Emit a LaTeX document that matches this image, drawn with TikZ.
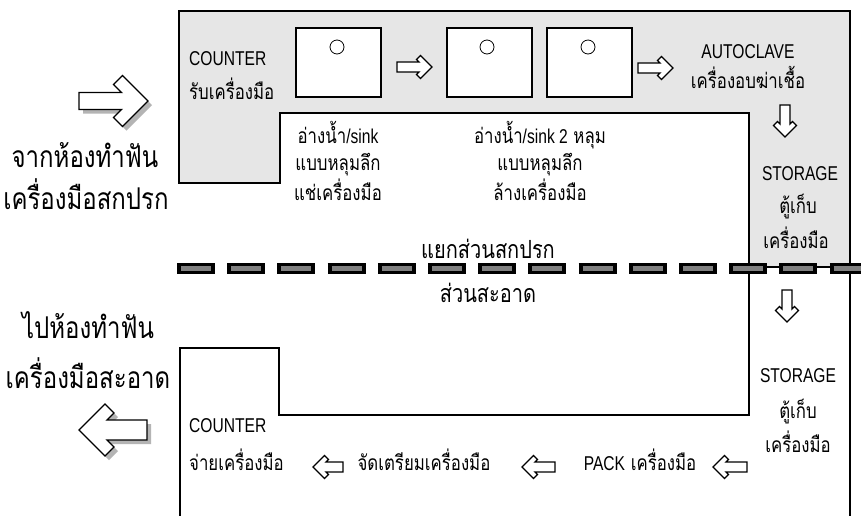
\documentclass[tikz,border=0pt]{standalone}
\usepackage{fontspec}
\newfontfamily\thai[Script=Thai,FakeStretch=0.8]{Loma}
\newfontfamily\lat[FakeStretch=0.78]{Liberation Sans}
\definecolor{roomgray}{HTML}{E6E6E6}
\definecolor{dashgray}{HTML}{808080}
\definecolor{shadowgray}{HTML}{B4B4B4}
\newcommand{\barrowpath}[4]{% L, S, H, d  (tip at origin, pointing +x)
  (0,0) -- (-#3,-#3) -- (-#3-#4,-#3+#4) -- (-2*#4-#2,-#2) -- (-#1,-#2) -- (-#1,#2) -- (-2*#4-#2,#2) -- (-#3-#4,#3-#4) -- (-#3,#3) -- cycle}
\newcommand{\barrow}[7]{% tipx, tipy, rot, L, S, H, d
  \begin{scope}[shift={(#1,#2)},rotate=#3]
    \draw[blockarrow] \barrowpath{#4}{#5}{#6}{#7};
  \end{scope}}
\newcommand{\sbarrow}[7]{% with shadow
  \begin{scope}[shift={(#1+4,#2+4)},rotate=#3]
    \fill[shadowgray] \barrowpath{#4}{#5}{#6}{#7};
  \end{scope}
  \begin{scope}[shift={(#1,#2)},rotate=#3]
    \draw[blockarrow] \barrowpath{#4}{#5}{#6}{#7};
  \end{scope}}
\newcommand{\latin}[1]{{\lat\fontsize{20}{24}\selectfont #1}}
\tikzset{
  wall/.style={line width=2, black},
  sinkbox/.style={draw, line width=2.6, fill=white, minimum width=85, minimum height=69, inner sep=0},
  drain/.style={draw, circle, line width=0.8, minimum size=14, inner sep=0},
  blockarrow/.style={draw, line width=1.3, fill=white, line join=miter},
  sm/.style={font=\thai\fontsize{21}{24}\selectfont, inner sep=0},
  mid/.style={font=\thai\fontsize{25}{28}\selectfont, inner sep=0},
  big/.style={font=\thai\fontsize{30}{34}\selectfont, inner sep=0},
  lab/.style={font=\lat\fontsize{20}{24}\selectfont, inner sep=0},
}
\begin{document}
\begin{tikzpicture}[x=1pt,y=-1pt]
\useasboundingbox (0,0) rectangle (861,515);
\fill[white] (0,0) rectangle (861,515);
% dirty zone
\draw[wall, fill=roomgray] (179,11) -- (850,11) -- (850,267) -- (749,267) -- (749,113) -- (280,113) -- (280,183) -- (179,183) -- cycle;
% clean zone
\draw[wall] (180,518) -- (180,348) -- (279,348) -- (279,415) -- (749,415) -- (749,267);
\draw[wall] (850,267) -- (850,518);
% divider
\draw[line width=11, black, dash pattern=on 38pt off 12.2pt] (177,268.5) -- (880,268.5);
\draw[line width=5, dashgray, dash pattern=on 30pt off 20.2pt] (181,268.5) -- (880,268.5);
% sinks
\node[sinkbox] (s1) at (338.5,62.5) {};
\node[sinkbox] (s2) at (489.5,62.5) {};
\node[sinkbox] (s3) at (589.5,62.5) {};
\node[drain] (d1) at (337,47) {};
\node[drain] (d2) at (487,47) {};
\node[drain] (d3) at (588,47) {};
% arrows
\sbarrow{148}{101}{0}{69}{8.5}{25.5}{9}
\barrow{432}{67}{0}{35}{5}{11.5}{4}
\barrow{673}{68}{0}{35}{5}{11.5}{4}
\barrow{785}{137}{-90}{32}{5}{11.5}{4}
\barrow{787}{322}{-90}{32}{5}{11.5}{4}
\sbarrow{79}{430}{180}{68}{10}{26}{9}
\barrow{313}{467}{180}{30}{5}{11.5}{4}
\barrow{522}{467}{180}{33}{5}{11.5}{4}
\barrow{713}{467}{180}{34}{5}{11.5}{4}
% texts
\node[big, anchor=base] (in1) at (85,167) {จากห้องทำฟัน};
\node[big, anchor=base] (in2) at (86,209) {เครื่องมือสกปรก};
\node[big, anchor=base] (out1) at (88,338) {ไปห้องทำฟัน};
\node[big, anchor=base] (out2) at (88,388) {เครื่องมือสะอาด};
\node[lab, anchor=base west] (c1) at (189,65) {COUNTER};
\node[sm, anchor=base west] (c1t) at (189,99) {รับเครื่องมือ};
\node[sm, anchor=base] (k1a) at (338,143) {อ่างน้ำ\latin{/sink}};
\node[sm, anchor=base] (k1b) at (338,170) {แบบหลุมลึก};
\node[sm, anchor=base] (k1c) at (338,200) {แช่เครื่องมือ};
\node[sm, anchor=base] (k2a) at (540,143) {อ่างน้ำ\latin{/sink 2} หลุม};
\node[sm, anchor=base] (k2b) at (540,170) {แบบหลุมลึก};
\node[sm, anchor=base] (k2c) at (540,200) {ล้างเครื่องมือ};
\node[lab, anchor=base] (ac) at (748,58) {AUTOCLAVE};
\node[sm, anchor=base] (act) at (748,88) {เครื่องอบฆ่าเชื้อ};
\node[lab, anchor=base] (st1) at (800,180) {STORAGE};
\node[sm, anchor=base] (st1a) at (798,213) {ตู้เก็บ};
\node[sm, anchor=base] (st1b) at (796,248) {เครื่องมือ};
\node[mid, anchor=base] (dv1) at (488,258) {แยกส่วนสกปรก};
\node[mid, anchor=base] (dv2) at (488,302) {ส่วนสะอาด};
\node[lab, anchor=base] (st2) at (798,382) {STORAGE};
\node[sm, anchor=base] (st2a) at (798,418) {ตู้เก็บ};
\node[sm, anchor=base] (st2b) at (798,452) {เครื่องมือ};
\node[lab, anchor=base west] (c2) at (189,432) {COUNTER};
\node[sm, anchor=base west] (c2t) at (189,470) {จ่ายเครื่องมือ};
\node[sm, anchor=base] (prep) at (424,470) {จัดเตรียมเครื่องมือ};
\node[sm, anchor=base] (pack) at (640,470) {\latin{PACK} เครื่องมือ};
\end{tikzpicture}
\end{document}
